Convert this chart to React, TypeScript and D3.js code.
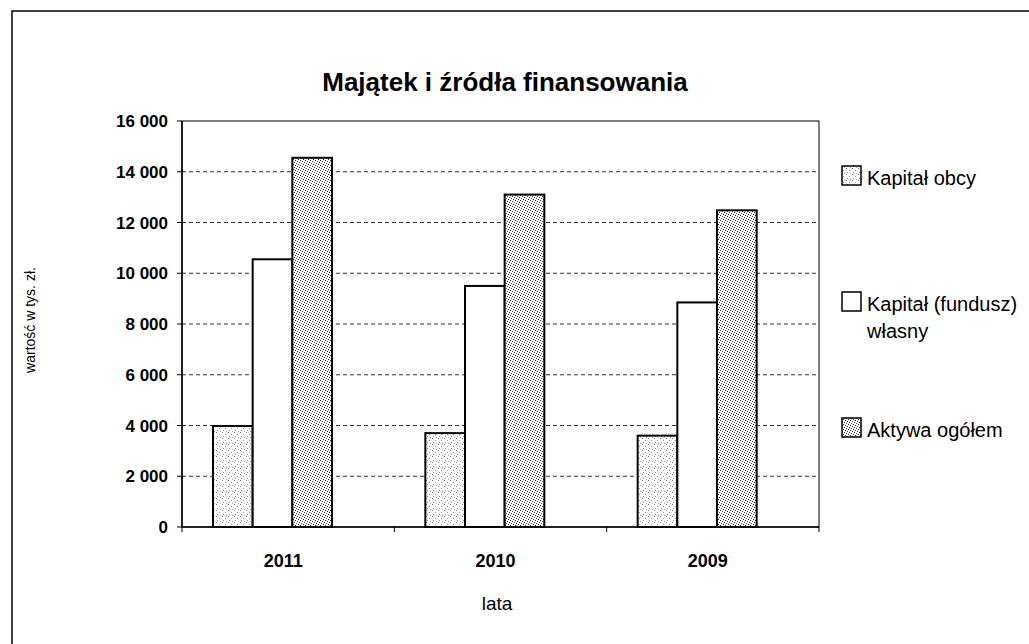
import React from 'react';
import * as d3 from 'd3';

const years = ['2011', '2010', '2009'];
const seriesNames = ['Kapitał obcy', 'Kapitał (fundusz) własny', 'Aktywa ogółem'];
const kapitalObcy = [3980, 3700, 3600];
const kapitalWlasny = [10550, 9500, 8850];
const aktywaOgolem = [14550, 13100, 12480];
const yTicks = [0, 2000, 4000, 6000, 8000, 10000, 12000, 14000, 16000];

const values = [kapitalObcy, kapitalWlasny, aktywaOgolem];
const fills = ['url(#dotsLight)', '#fff', 'url(#dotsDark)'];
const font = '"Liberation Sans", Arial, sans-serif';

const App = () => {
  const left = 182, right = 819, top = 121, bottom = 527;

  const x = d3.scaleBand().domain(years).range([left, right]);
  const inner = d3.scaleBand().domain(seriesNames).range([31, 150]);
  const y = d3.scaleLinear().domain([0, 16000]).range([bottom, top]);
  const fmt = (v: number) => d3.format(',')(v).replace(/,/g, ' ');

  // legend box tops
  const legendY = [166, 292, 418];

  return (
    <svg width={1029} height={644} style={{ position: 'absolute', left: 0, top: 0, background: '#fff' }}>
      <defs>
        <pattern id="dotsLight" width={6} height={6} patternUnits="userSpaceOnUse">
          <rect width={6} height={6} fill="#fff" />
          <rect x={0} y={0} width={1} height={1} fill="#777" />
          <rect x={3} y={2} width={1} height={1} fill="#999" />
          <rect x={1} y={4} width={1} height={1} fill="#888" />
          <rect x={4} y={5} width={1} height={1} fill="#aaa" />
        </pattern>
        <pattern id="dotsDark" width={5} height={5} patternUnits="userSpaceOnUse">
          <rect width={5} height={5} fill="#fff" />
          <rect x={0} y={0} width={1} height={1} fill="#222" />
          <rect x={2} y={1} width={1} height={1} fill="#444" />
          <rect x={4} y={2} width={1} height={1} fill="#333" />
          <rect x={1} y={3} width={1} height={1} fill="#555" />
          <rect x={3} y={4} width={1} height={1} fill="#222" />
        </pattern>
      </defs>

      <rect x={12} y={11} width={1100} height={700} fill="none" stroke="#000" strokeWidth={1.5} />

      <text x={505} y={91} textAnchor="middle" fontFamily={font} fontWeight="bold" fontSize={26}>
        Majątek i źródła finansowania
      </text>

      {yTicks.filter(t => t > 0 && t < 16000).map(t => (
        <line key={'g' + t} x1={left} x2={right} y1={y(t)} y2={y(t)} stroke="#333" strokeDasharray="4,3" strokeWidth={1} />
      ))}

      <rect x={left} y={top} width={right - left} height={bottom - top} fill="none" stroke="#000" strokeWidth={1} />

      {years.map((yr, i) =>
        seriesNames.map((s, j) => {
          const v = values[j][i];
          return (
            <rect key={yr + s}
              x={(x(yr) as number) + (inner(s) as number)}
              y={y(v)}
              width={inner.bandwidth()}
              height={bottom - y(v)}
              fill={fills[j]}
              stroke="#000"
              strokeWidth={2} />
          );
        })
      )}

      <line x1={left} x2={left} y1={top} y2={bottom} stroke="#000" strokeWidth={1.5} />
      <line x1={left} x2={right} y1={bottom} y2={bottom} stroke="#000" strokeWidth={1.5} />

      {yTicks.map(t => (
        <g key={'t' + t}>
          <line x1={left - 5} x2={left} y1={y(t)} y2={y(t)} stroke="#000" />
          <text x={168} y={y(t) + 6} textAnchor="end" fontFamily={font} fontWeight="bold" fontSize={17}>
            {fmt(t)}
          </text>
        </g>
      ))}

      {years.map((yr, i) => (
        <g key={'x' + yr}>
          <line x1={(x(yr) as number)} x2={(x(yr) as number)} y1={bottom} y2={bottom + 5} stroke="#000" />
          {i === years.length - 1 && (
            <line x1={right} x2={right} y1={bottom} y2={bottom + 5} stroke="#000" />
          )}
          <text x={(x(yr) as number) + x.bandwidth() / 2 - 5} y={567} textAnchor="middle" fontFamily={font} fontWeight="bold" fontSize={18}>
            {yr}
          </text>
        </g>
      ))}

      <text x={497} y={610} textAnchor="middle" fontFamily={font} fontSize={19}>lata</text>

      <text transform="translate(35,320) rotate(-90)" textAnchor="middle" fontFamily={font} fontSize={14}>
        wartość w tys. zł.
      </text>

      {seriesNames.map((s, j) => {
        const ly = legendY[j];
        const lines = j === 1 ? ['Kapitał (fundusz)', 'własny'] : [s];
        return (
          <g key={'l' + s}>
            <rect x={842} y={ly} width={19} height={19} fill={fills[j]} stroke="#000" strokeWidth={1.5} />
            {lines.map((ln, k) => (
              <text key={ln} x={867} y={ly + 19 + k * 27} fontFamily={font} fontSize={20}>{ln}</text>
            ))}
          </g>
        );
      })}
    </svg>
  );
};

export default App;
